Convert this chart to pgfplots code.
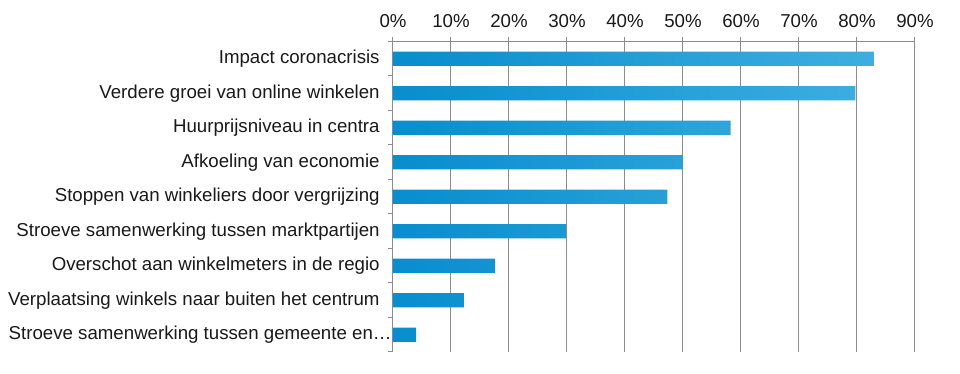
\documentclass[border=0pt]{standalone}
\usepackage{fontspec}
\setmainfont{Liberation Sans}
\usepackage{pgfplots}
\pgfplotsset{compat=1.18}
\definecolor{barL}{RGB}{8,141,206}
\definecolor{barR}{RGB}{62,174,224}
\definecolor{gridc}{RGB}{140,140,140}
\definecolor{txt}{RGB}{25,25,25}
\begin{document}
\begin{tikzpicture}
\begin{axis}[
  at={(0,0)}, anchor=south west,
  scale only axis, width=391.5pt, height=232.9pt,
  xmin=0, xmax=90, ymin=-0.5, ymax=8.5,
  xbar, bar width=10.8pt,
  axis x line*=top, axis y line*=left,
  axis line style={gridc, line width=0.75pt},
  tick align=outside, major tick length=3.5pt,
  tick style={gridc, line width=0.75pt},
  xtick={0,10,...,90},
  xticklabel={\pgfmathprintnumber{\tick}\%},
  xmajorgrids, grid style={gridc, line width=0.75pt},
  ytick={-0.5,0.5,...,8.5}, yticklabels={},
  extra y ticks={0,1,...,8},
  extra y tick labels={Stroeve samenwerking tussen gemeente en…\kern-9pt,Verplaatsing winkels naar buiten het centrum,Overschot aan winkelmeters in de regio,Stroeve samenwerking tussen marktpartijen,Stoppen van winkeliers door vergrijzing,Afkoeling van economie,Huurprijsniveau in centra,Verdere groei van online winkelen,Impact coronacrisis},
  extra y tick style={major tick length=0pt},
  ticklabel style={font=\fontsize{14}{16}\selectfont, text=txt},
  yticklabel style={xshift=-6.5pt},
  xticklabel style={yshift=3pt},
  /pgf/number format/assume math mode=true,
]
\addplot[draw=none, left color=barL, right color=barR] coordinates {
(4.0,0) (12.2,1) (17.6,2) (29.8,3) (47.3,4) (50.0,5) (58.2,6) (79.7,7) (82.9,8)
};
\end{axis}
\pgfresetboundingbox
\useasboundingbox (-294.75pt,-16.5pt) rectangle (425.25pt,264pt);
\end{tikzpicture}
\end{document}
